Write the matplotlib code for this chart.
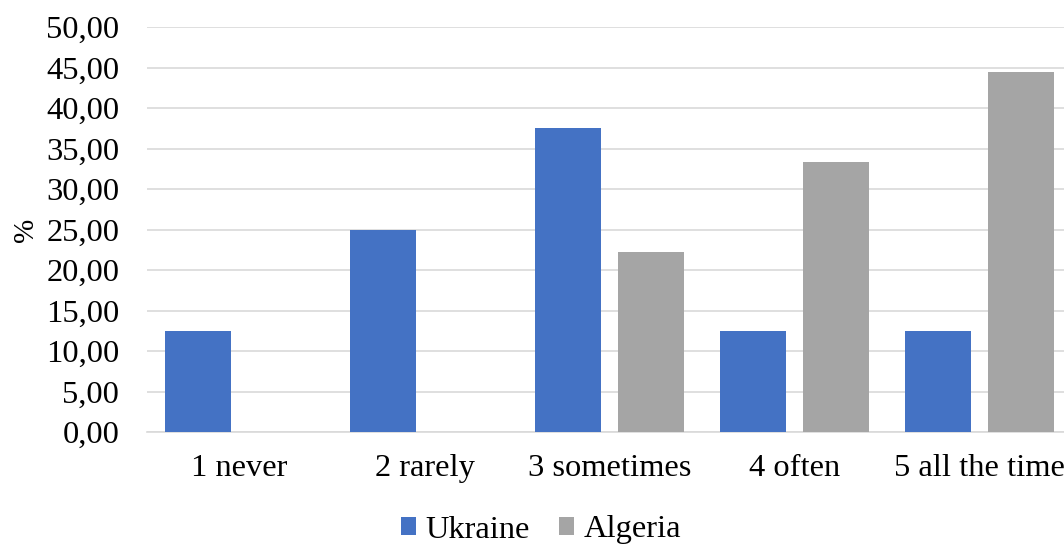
import numpy as np
import matplotlib
matplotlib.use("Agg")
import matplotlib.pyplot as plt
from matplotlib.ticker import FuncFormatter, MultipleLocator
import matplotlib.patches as mpatches

categories = ["1 never", "2 rarely", "3 sometimes", "4 often", "5 all the time"]
ukraine = [12.5, 25.0, 37.5, 12.5, 12.5]
algeria = [0.0, 0.0, 22.22, 33.33, 44.44]
series_names = ["Ukraine", "Algeria"]
colors = ["#4472C4", "#A5A5A5"]

plt.rcParams["font.family"] = ["Liberation Serif", "DejaVu Serif"]

fig = plt.figure(figsize=(10.64, 5.45), dpi=100)
# plot area runs past the right edge, as in the cropped original
ax = fig.add_axes([147 / 1064, 113 / 545, 925 / 1064, 405 / 545])

x = np.arange(len(categories))
w = 0.357
off = 0.224
ax.bar(x - off, ukraine, w, color=colors[0], zorder=3)
ax.bar(x + off, algeria, w, color=colors[1], zorder=3)

ax.set_xlim(-0.5, len(categories) - 0.5)
ax.set_ylim(0, 50)
ax.yaxis.set_major_locator(MultipleLocator(5))
ax.yaxis.set_major_formatter(FuncFormatter(lambda v, p: f"{v:.2f}".replace(".", ",")))
ax.set_xticks(x)
ax.set_xticklabels(categories)

ax.grid(axis="y", color="#D9D9D9", linewidth=1.2, zorder=0)
for s in ["top", "right", "left"]:
    ax.spines[s].set_visible(False)
ax.spines["bottom"].set_color("#D9D9D9")
ax.spines["bottom"].set_linewidth(1.2)
ax.tick_params(axis="y", length=0, pad=20, labelsize=23.4)
ax.tick_params(axis="x", length=0, pad=16, labelsize=23.4)
ax.set_ylabel("%", fontsize=21, labelpad=5)

handles = [mpatches.Patch(facecolor=c, label=n) for c, n in zip(colors, series_names)]
fig.legend(handles=handles, loc="center", bbox_to_anchor=(541 / 1064, 1 - 530 / 545),
           ncol=2, frameon=False, fontsize=23.4, handlelength=0.45, handleheight=0.45,
           handletextpad=0.3, columnspacing=0.9, borderaxespad=0)

fig.savefig("out.png", dpi=100)
